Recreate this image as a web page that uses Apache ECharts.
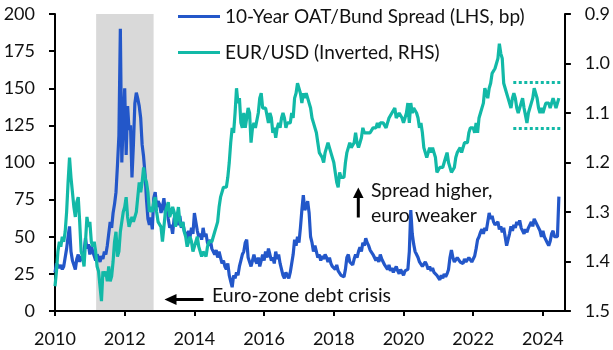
<!DOCTYPE html>
<html><head><meta charset="utf-8">
<script src="https://cdn.jsdelivr.net/npm/echarts@6/dist/echarts.min.js"></script>
<style>html,body{margin:0;padding:0;background:#fff}#c{width:613px;height:350px}</style>
</head><body><div id="c"></div>
<script>
// Semi-monthly observations (1st and 16th of each month), Jan 2010 - Jun 2024
const startYear = 2010;
const obsPerYear = 24;
const seriesNames = ['10-Year OAT/Bund Spread (LHS, bp)', 'EUR/USD (Inverted, RHS)'];

const spread = [
  26,32, 33,29, 31,28, 30,36, 42,50, 57,40, 34,31, 28,35, 38,33, 37,34, 40,49, 42,45,
  38,44, 40,37, 34,38, 36,33, 37,35, 40,38, 44,52, 60,56, 66,72, 80,98, 118,190, 100,128,
  150,105, 138,122, 125,90, 112,140, 147,143, 138,130, 112,104, 92,75, 62,58, 63,55, 76,80, 70,74,
  72,66, 70,76, 66,72, 62,56, 58,52, 62,66, 60,58, 64,56, 60,54, 52,48, 54,50, 56,52,
  66,60, 54,50, 52,48, 56,50, 52,46, 44,48, 42,40, 38,41, 36,40, 36,32, 34,30, 28,32,
  24,20, 16,24, 22,26, 24,30, 34,38, 40,46, 48,36, 36,30, 34,38, 34,32, 36,30, 34,38,
  34,40, 36,42, 38,34, 36,32, 40,35, 38,32, 28,24, 22,26, 25,22, 26,32, 38,48, 44,50,
  46,56, 68,78, 68,70, 74,66, 50,46, 40,44, 40,36, 38,34, 37,35, 38,36, 33,36, 32,30,
  30,28, 31,27, 26,24, 25,23, 28,36, 38,33, 34,31, 35,38, 36,40, 43,40, 46,44, 49,46,
  44,41, 42,38, 37,34, 36,33, 38,35, 33,31, 30,28, 31,27, 29,26, 28,30, 27,25, 28,26,
  24,27, 26,28, 40,68, 52,45, 40,38, 36,33, 32,30, 30,33, 31,28, 30,27, 29,26, 25,24,
  23,21, 24,22, 25,23, 25,28, 36,41, 36,33, 34,36, 35,33, 34,32, 35,33, 34,36, 35,33,
  34,37, 42,48, 50,53, 55,52, 56,54, 60,66, 62,64, 60,58, 57,60, 55,57, 53,56, 50,44,
  48,52, 57,54, 58,56, 60,58, 61,56, 54,52, 55,53, 56,58, 60,57, 62,63, 58,57, 54,50,
  54,50, 48,46, 44,47, 52,54, 50,49, 50,77
];

const eurusd = [
  1.45,1.42, 1.38,1.36, 1.37,1.35, 1.36,1.34, 1.30,1.24, 1.19,1.23, 1.26,1.29, 1.31,1.28, 1.27,1.32, 1.38,1.39, 1.41,1.36, 1.31,1.33,
  1.32,1.36, 1.37,1.36, 1.38,1.41, 1.42,1.45, 1.48,1.42, 1.43,1.42, 1.44,1.41, 1.44,1.43, 1.40,1.36, 1.34,1.39, 1.38,1.34, 1.34,1.30,
  1.29,1.27, 1.31,1.33, 1.32,1.31, 1.32,1.31, 1.30,1.27, 1.24,1.26, 1.24,1.21, 1.23,1.24, 1.26,1.30, 1.29,1.30, 1.28,1.27, 1.30,1.32,
  1.32,1.33, 1.36,1.33, 1.30,1.29, 1.28,1.31, 1.31,1.29, 1.30,1.33, 1.31,1.29, 1.32,1.33, 1.32,1.34, 1.35,1.37, 1.36,1.35, 1.36,1.38,
  1.37,1.36, 1.35,1.37, 1.38,1.39, 1.38,1.38, 1.39,1.37, 1.36,1.36, 1.36,1.35, 1.34,1.33, 1.32,1.29, 1.27,1.27, 1.25,1.25, 1.25,1.23,
  1.20,1.16, 1.13,1.14, 1.10,1.05, 1.08,1.07, 1.12,1.13, 1.10,1.13, 1.11,1.09, 1.10,1.16, 1.13,1.12, 1.13,1.13, 1.10,1.07, 1.06,1.09,
  1.09,1.09, 1.09,1.12, 1.10,1.11, 1.14,1.13, 1.15,1.13, 1.12,1.13, 1.11,1.10, 1.11,1.13, 1.12,1.12, 1.12,1.10, 1.11,1.07, 1.06,1.04,
  1.05,1.06, 1.08,1.06, 1.07,1.06, 1.07,1.07, 1.09,1.11, 1.12,1.12, 1.14,1.16, 1.18,1.18, 1.19,1.20, 1.18,1.17, 1.16,1.17, 1.18,1.18,
  1.20,1.22, 1.24,1.25, 1.22,1.23, 1.23,1.23, 1.20,1.18, 1.17,1.16, 1.17,1.17, 1.16,1.14, 1.16,1.17, 1.16,1.15, 1.13,1.14, 1.14,1.14,
  1.14,1.14, 1.14,1.13, 1.13,1.13, 1.12,1.13, 1.12,1.12, 1.12,1.12, 1.13,1.12, 1.11,1.11, 1.10,1.10, 1.09,1.11, 1.11,1.10, 1.10,1.11,
  1.12,1.11, 1.10,1.08, 1.12,1.08, 1.10,1.09, 1.09,1.10, 1.11,1.13, 1.12,1.14, 1.17,1.18, 1.19,1.18, 1.17,1.18, 1.17,1.18, 1.19,1.22,
  1.22,1.21, 1.21,1.21, 1.20,1.19, 1.18,1.20, 1.20,1.22, 1.22,1.21, 1.19,1.18, 1.18,1.17, 1.18,1.17, 1.16,1.16, 1.16,1.14, 1.13,1.13,
  1.13,1.14, 1.12,1.14, 1.11,1.10, 1.10,1.08, 1.05,1.05, 1.07,1.05, 1.04,1.02, 1.02,1.01, 1.00,0.99, 0.96,0.98, 0.99,1.04, 1.05,1.06,
  1.07,1.08, 1.09,1.07, 1.06,1.07, 1.09,1.10, 1.10,1.08, 1.07,1.09, 1.09,1.12, 1.10,1.09, 1.08,1.07, 1.05,1.06, 1.07,1.09, 1.10,1.09,
  1.10,1.09, 1.08,1.08, 1.08,1.09, 1.08,1.07, 1.07,1.09, 1.09,1.07
];

const xTicks = [2010, 2012, 2014, 2016, 2018, 2020, 2022, 2024];
const xMin = 2010, xMax = 2024.63;
const leftMin = 0, leftMax = 200, leftStep = 25;
const rightMin = 0.9, rightMax = 1.5, rightStep = 0.1;
const crisisPeriod = [2011.18, 2012.83];
const rangeLevels = [1.037, 1.13];
const rangePeriod = [2023.15, 2024.52];

const BLUE = '#2357c9';
const TEAL = '#12b9a7';
const FONT = 'Lato';

const dates = spread.map((_, i) => startYear + i / obsPerYear);

const chart = echarts.init(document.getElementById('c'), null, {renderer: 'canvas'});
const axisLine = {show: true, lineStyle: {color: '#000', width: 2}};
const labelStyle = {color: '#111', fontSize: 18, fontFamily: FONT};

chart.setOption({
  animation: false,
  textStyle: {fontFamily: FONT},
  grid: {left: 55, right: 48, top: 14, bottom: 39},
  legend: {
    orient: 'vertical', left: 178, top: 7, padding: 0,
    itemWidth: 42, itemHeight: 3, itemGap: 17, icon: 'rect',
    textStyle: {color: '#111', fontSize: 19, fontFamily: FONT},
    data: seriesNames
  },
  xAxis: {
    type: 'value', min: xMin, max: xMax,
    axisLine: axisLine,
    axisTick: {show: true, customValues: xTicks, length: 5, lineStyle: {color: '#000', width: 2}},
    axisLabel: {customValues: xTicks, formatter: v => String(v), margin: 19, ...labelStyle},
    splitLine: {show: false}
  },
  yAxis: [{
    type: 'value', min: leftMin, max: leftMax, interval: leftStep, position: 'left',
    axisLine: axisLine,
    axisTick: {show: true, length: 6, lineStyle: {color: '#000', width: 2}},
    axisLabel: {margin: 20, ...labelStyle},
    splitLine: {show: false}
  }, {
    type: 'value', min: rightMin, max: rightMax, interval: rightStep, position: 'right', inverse: true,
    axisLine: axisLine,
    axisTick: {show: true, length: 6, lineStyle: {color: '#000', width: 2}},
    axisLabel: {margin: 20, formatter: v => v.toFixed(1), ...labelStyle},
    splitLine: {show: false}
  }],
  series: [{
    name: seriesNames[0], type: 'line', yAxisIndex: 0, z: 2,
    showSymbol: false, symbol: 'none',
    lineStyle: {color: BLUE, width: 3.2}, itemStyle: {color: BLUE},
    data: dates.map((d, i) => [d, spread[i]])
  }, {
    name: seriesNames[1], type: 'line', yAxisIndex: 1, z: 3,
    showSymbol: false, symbol: 'none',
    lineStyle: {color: TEAL, width: 3.2}, itemStyle: {color: TEAL},
    data: dates.map((d, i) => [d, eurusd[i]]),
    markLine: {
      silent: true, symbol: 'none', label: {show: false},
      lineStyle: {color: TEAL, width: 3, type: [3, 2.5]},
      data: rangeLevels.map(l => [{coord: [rangePeriod[0], l]}, {coord: [rangePeriod[1], l]}])
    }
  }, {
    name: 'crisis', type: 'line', yAxisIndex: 0, zlevel: 1, z: 10, data: [],
    markArea: {
      silent: true, itemStyle: {color: 'rgba(0,0,0,0.15)'},
      data: [[{xAxis: crisisPeriod[0]}, {xAxis: crisisPeriod[1]}]]
    }
  }],
  graphic: [
    {type: 'text', left: 371, top: 178, style: {text: 'Spread higher,\neuro weaker', font: '19.5px ' + FONT, fill: '#111', lineHeight: 25}},
    {type: 'line', shape: {x1: 358.3, y1: 217.5, x2: 358.3, y2: 196}, style: {stroke: '#000', lineWidth: 3}},
    {type: 'polygon', shape: {points: [[353, 198], [363.6, 198], [358.3, 187.5]]}, style: {fill: '#000'}},
    {type: 'text', left: 212, top: 286, style: {text: 'Euro-zone debt crisis', font: '19.5px ' + FONT, fill: '#111'}},
    {type: 'line', shape: {x1: 203.5, y1: 299.5, x2: 174, y2: 299.5}, style: {stroke: '#000', lineWidth: 3}},
    {type: 'polygon', shape: {points: [[176.5, 294], [176.5, 305], [164.5, 299.5]]}, style: {fill: '#000'}}
  ]
});
</script></body></html>
